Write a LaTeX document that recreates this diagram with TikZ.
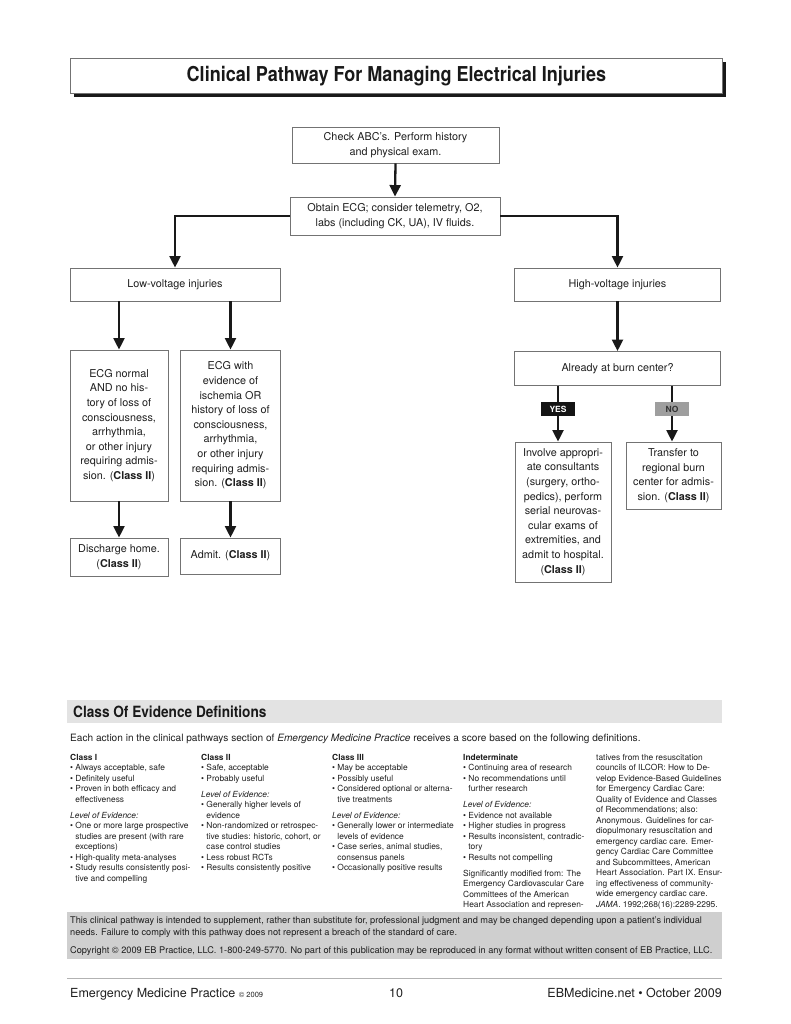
\documentclass[tikz,border=0pt]{standalone}
\usepackage{fontspec}
\setmainfont{TeX Gyre Heros}
\newfontfamily\condfont[FakeStretch=0.88]{TeX Gyre Heros}
\usetikzlibrary{arrows.meta,shadows}

\definecolor{boxline}{gray}{0.45}
\definecolor{txt}{gray}{0.12}
\definecolor{hdrgray}{gray}{0.89}
\definecolor{discgray}{gray}{0.81}
\definecolor{nogray}{gray}{0.62}

\newcommand{\fs}[2]{\fontsize{#1pt}{#2pt}\selectfont}
\newcommand{\bl}{\textbullet\ }
\newcommand{\ind}{\phantom{\textbullet\ }}

\begin{document}
\begin{tikzpicture}[x=1pt,y=-1pt,
  flow/.style={draw=boxline, line width=0.9pt, fill=white, align=center, inner sep=0pt, font=\fs{10.8}{14.6}, text=txt},
  arr/.style={line width=2.3pt, draw=black!90, -{Triangle[length=11.5pt,width=11pt]}},
  col/.style={anchor=north west, inner sep=0pt, align=left, font=\fs{8.4}{10.5}, text=txt},
  lbl/.style={inner sep=0pt, minimum width=34pt, minimum height=14pt, font=\bfseries\fs{8.5}{9}},
  line/.style={anchor=base west, inner sep=0pt, font=\fs{9.2}{11}, text=txt},
]
\useasboundingbox (0,0) rectangle (791,1024);

% title
\node[draw=boxline, line width=0.8pt, fill=white, minimum width=652pt, minimum height=35pt,
      anchor=north west, inner sep=0pt, text=black!90,
      font=\condfont\bfseries\fs{20.5}{22},
      drop shadow={shadow xshift=4pt, shadow yshift=-4pt, opacity=1, fill=black!90}]
  (title) at (70,58) {Clinical Pathway For Managing Electrical Injuries};

% flow boxes
\node[flow, minimum width=207pt, minimum height=36pt] (b1) at (395.5,145)
  {Check ABC’s. Perform history\\and physical exam.};
\node[flow, minimum width=210pt, minimum height=38pt] (b2) at (395,216)
  {Obtain ECG; consider telemetry, O2,\\labs (including CK, UA), IV fluids.};
\node[flow, minimum width=210pt, minimum height=33pt] (low) at (175,284.5) {Low-voltage injuries};
\node[flow, minimum width=206pt, minimum height=33pt] (high) at (617.5,284.5) {High-voltage injuries};
\node[flow, minimum width=98pt, minimum height=151pt] (en) at (119,425.5)
  {ECG normal\\AND no his-\\tory of loss of\\consciousness,\\arrhythmia,\\or other injury\\requiring admis-\\sion. (\textbf{Class II})};
\node[flow, minimum width=100pt, minimum height=151pt] (ew) at (230.5,425.5)
  {ECG with\\evidence of\\ischemia OR\\history of loss of\\consciousness,\\arrhythmia,\\or other injury\\requiring admis-\\sion. (\textbf{Class II})};
\node[flow, minimum width=98pt, minimum height=38pt] (dis) at (119,557)
  {Discharge home.\\(\textbf{Class II})};
\node[flow, minimum width=100pt, minimum height=36pt] (adm) at (230.5,556)
  {Admit. (\textbf{Class II})};
\node[flow, minimum width=206pt, minimum height=34pt] (burn) at (617.5,368.5) {Already at burn center?};
\node[flow, minimum width=96pt, minimum height=140pt] (inv) at (563,512)
  {Involve appropri-\\ate consultants\\(surgery, ortho-\\pedics), perform\\serial neurovas-\\cular exams of\\extremities, and\\admit to hospital.\\(\textbf{Class II})};
\node[flow, minimum width=95pt, minimum height=67pt] (tr) at (673.5,475.5)
  {Transfer to\\regional burn\\center for admis-\\sion. (\textbf{Class II})};

\coordinate (yesc) at (558,409);
\coordinate (noc) at (672,409);

% connectors
\draw[arr] (b1.south) -- (b2.north);
\draw[arr] (b2.west) -| (low.north);
\draw[arr] (b2.east) -| (high.north);
\draw[arr] (low.south -| en.north) -- (en.north);
\draw[arr] (low.south -| ew.north) -- (ew.north);
\draw[arr] (en.south) -- (dis.north);
\draw[arr] (ew.south) -- (adm.north);
\draw[arr] (high.south) -- (burn.north);
\draw[arr] (burn.south -| yesc) -- (inv.north -| yesc);
\draw[arr] (burn.south -| noc) -- (tr.north -| noc);

\node[lbl, fill=black!92, text=white] (yes) at (yesc) {YES};
\node[lbl, fill=nogray, text=black!80] (no) at (noc) {NO};

% Class of evidence section
\node[fill=hdrgray, minimum width=655pt, minimum height=23pt, anchor=north west, inner sep=0pt] (cedband) at (67,700) {};
\node[anchor=west, inner sep=0pt, font=\condfont\bfseries\fs{15.5}{17}, text=black!90] (cedtitle) at (73,711.5) {Class Of Evidence Definitions};

\node[line, font=\fs{10.1}{11}] (intro) at (70,741.5)
  {Each action in the clinical pathways section of \textit{Emergency Medicine Practice} receives a score based on the following definitions.};

\node[col] (c1) at (70,754) {\textbf{Class I}\\
\bl Always acceptable, safe\\
\bl Definitely useful\\
\bl Proven in both efficacy and\\
\ind effectiveness\\[5.5pt]
\textit{Level of Evidence:}\\
\bl One or more large prospective\\
\ind studies are present (with rare\\
\ind exceptions)\\
\bl High-quality meta-analyses\\
\bl Study results consistently posi-\\
\ind tive and compelling};

\node[col] (c2) at (201,754) {\textbf{Class II}\\
\bl Safe, acceptable\\
\bl Probably useful\\[5.5pt]
\textit{Level of Evidence:}\\
\bl Generally higher levels of\\
\ind evidence\\
\bl Non-randomized or retrospec-\\
\ind tive studies: historic, cohort, or\\
\ind case control studies\\
\bl Less robust RCTs\\
\bl Results consistently positive};

\node[col] (c3) at (332,754) {\textbf{Class III}\\
\bl May be acceptable\\
\bl Possibly useful\\
\bl Considered optional or alterna-\\
\ind tive treatments\\[5.5pt]
\textit{Level of Evidence:}\\
\bl Generally lower or intermediate\\
\ind levels of evidence\\
\bl Case series, animal studies,\\
\ind consensus panels\\
\bl Occasionally positive results};

\node[col] (c4) at (463,754) {\textbf{Indeterminate}\\
\bl Continuing area of research\\
\bl No recommendations until\\
\ind further research\\[5.5pt]
\textit{Level of Evidence:}\\
\bl Evidence not available\\
\bl Higher studies in progress\\
\bl Results inconsistent, contradic-\\
\ind tory\\
\bl Results not compelling\\[5.5pt]
Significantly modified from: The\\
Emergency Cardiovascular Care\\
Committees of the American\\
Heart Association and represen-};

\node[col] (c5) at (596,754) {tatives from the resuscitation\\
councils of ILCOR: How to De-\\
velop Evidence-Based Guidelines\\
for Emergency Cardiac Care:\\
Quality of Evidence and Classes\\
of Recommendations; also:\\
Anonymous. Guidelines for car-\\
diopulmonary resuscitation and\\
emergency cardiac care. Emer-\\
gency Cardiac Care Committee\\
and Subcommittees, American\\
Heart Association. Part IX. Ensur-\\
ing effectiveness of community-\\
wide emergency cardiac care.\\
\textit{JAMA}. 1992;268(16):2289-2295.};

% disclaimer
\node[fill=discgray, minimum width=655pt, minimum height=47pt, anchor=north west, inner sep=0pt] (disc) at (67,912) {};
\node[line] (disc1) at (70,923.5)
  {This clinical pathway is intended to supplement, rather than substitute for, professional judgment and may be changed depending upon a patient’s individual};
\node[line] (disc2) at (70,935.5)
  {needs. Failure to comply with this pathway does not represent a breach of the standard of care.};
\node[line] (copy) at (70,953)
  {Copyright © 2009 EB Practice, LLC. 1-800-249-5770. No part of this publication may be reproduced in any format without written consent of EB Practice, LLC.};

% footer
\draw[gray!60, line width=1pt] (67,978) -- (722,978);
\node[anchor=base west, inner sep=0pt, font=\fs{12.5}{14}, text=txt] (fl) at (70,997)
  {Emergency Medicine Practice {\fs{7.5}{9}© 2009}};
\node[anchor=base, inner sep=0pt, font=\fs{12.5}{14}, text=txt] (fc) at (396,997) {10};
\node[anchor=base east, inner sep=0pt, font=\fs{12.5}{14}, text=txt] (fr) at (722,997)
  {EBMedicine.net • October 2009};
\end{tikzpicture}
\end{document}
